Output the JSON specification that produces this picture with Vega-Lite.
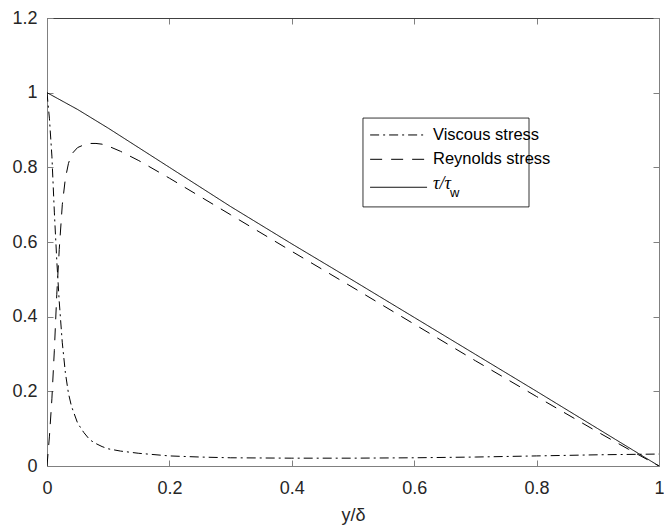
{
  "$schema": "https://vega.github.io/schema/vega-lite/v6.json",
  "width": 612,
  "height": 448,
  "autosize": "none",
  "padding": {"left": 47, "top": 18, "right": 5, "bottom": 61},
  "background": "white",
  "config": {
    "view": {"stroke": "#808080", "strokeWidth": 1},
    "font": "Liberation Sans",
    "axis": {
      "grid": false,
      "domainColor": "#808080",
      "domainWidth": 1,
      "tickColor": "#808080",
      "tickWidth": 1,
      "tickSize": -6,
      "labelFlush": false,
      "labelFont": "Liberation Sans",
      "labelFontSize": 18,
      "labelColor": "#262626",
      "titleFont": "Liberation Sans",
      "titleFontSize": 18,
      "titleFontWeight": "normal",
      "titleColor": "#262626"
    }
  },
  "datasets": {
    "curves": [
      {"s": "Viscous stress", "x": 0, "y": 1.0},
      {"s": "Viscous stress", "x": 0.004, "y": 0.93},
      {"s": "Viscous stress", "x": 0.008, "y": 0.83},
      {"s": "Viscous stress", "x": 0.012, "y": 0.68},
      {"s": "Viscous stress", "x": 0.016, "y": 0.55},
      {"s": "Viscous stress", "x": 0.02, "y": 0.44},
      {"s": "Viscous stress", "x": 0.025, "y": 0.33},
      {"s": "Viscous stress", "x": 0.03, "y": 0.25},
      {"s": "Viscous stress", "x": 0.035, "y": 0.195},
      {"s": "Viscous stress", "x": 0.04, "y": 0.16},
      {"s": "Viscous stress", "x": 0.05, "y": 0.115},
      {"s": "Viscous stress", "x": 0.06, "y": 0.09},
      {"s": "Viscous stress", "x": 0.07, "y": 0.07},
      {"s": "Viscous stress", "x": 0.08, "y": 0.06},
      {"s": "Viscous stress", "x": 0.09, "y": 0.052},
      {"s": "Viscous stress", "x": 0.1, "y": 0.046},
      {"s": "Viscous stress", "x": 0.12, "y": 0.04},
      {"s": "Viscous stress", "x": 0.15, "y": 0.034},
      {"s": "Viscous stress", "x": 0.2, "y": 0.027},
      {"s": "Viscous stress", "x": 0.25, "y": 0.024},
      {"s": "Viscous stress", "x": 0.3, "y": 0.022},
      {"s": "Viscous stress", "x": 0.4, "y": 0.021},
      {"s": "Viscous stress", "x": 0.5, "y": 0.021},
      {"s": "Viscous stress", "x": 0.6, "y": 0.022},
      {"s": "Viscous stress", "x": 0.7, "y": 0.024},
      {"s": "Viscous stress", "x": 0.8, "y": 0.027},
      {"s": "Viscous stress", "x": 0.9, "y": 0.03},
      {"s": "Viscous stress", "x": 1.0, "y": 0.032},
      {"s": "Reynolds stress", "x": 0, "y": 0},
      {"s": "Reynolds stress", "x": 0.004, "y": 0.08},
      {"s": "Reynolds stress", "x": 0.008, "y": 0.18},
      {"s": "Reynolds stress", "x": 0.012, "y": 0.31},
      {"s": "Reynolds stress", "x": 0.016, "y": 0.46},
      {"s": "Reynolds stress", "x": 0.02, "y": 0.58},
      {"s": "Reynolds stress", "x": 0.025, "y": 0.7},
      {"s": "Reynolds stress", "x": 0.03, "y": 0.77},
      {"s": "Reynolds stress", "x": 0.035, "y": 0.81},
      {"s": "Reynolds stress", "x": 0.04, "y": 0.835},
      {"s": "Reynolds stress", "x": 0.05, "y": 0.853},
      {"s": "Reynolds stress", "x": 0.06, "y": 0.86},
      {"s": "Reynolds stress", "x": 0.07, "y": 0.864},
      {"s": "Reynolds stress", "x": 0.08, "y": 0.864},
      {"s": "Reynolds stress", "x": 0.09, "y": 0.862},
      {"s": "Reynolds stress", "x": 0.1, "y": 0.857},
      {"s": "Reynolds stress", "x": 0.12, "y": 0.843},
      {"s": "Reynolds stress", "x": 0.15, "y": 0.818},
      {"s": "Reynolds stress", "x": 0.2, "y": 0.771},
      {"s": "Reynolds stress", "x": 0.3, "y": 0.673},
      {"s": "Reynolds stress", "x": 0.4, "y": 0.575},
      {"s": "Reynolds stress", "x": 0.5, "y": 0.478},
      {"s": "Reynolds stress", "x": 0.6, "y": 0.38},
      {"s": "Reynolds stress", "x": 0.7, "y": 0.282},
      {"s": "Reynolds stress", "x": 0.8, "y": 0.186},
      {"s": "Reynolds stress", "x": 0.9, "y": 0.091},
      {"s": "Reynolds stress", "x": 0.95, "y": 0.045},
      {"s": "Reynolds stress", "x": 1.0, "y": 0},
      {"s": "total", "x": 0, "y": 1.0},
      {"s": "total", "x": 0.02, "y": 0.982},
      {"s": "total", "x": 0.05, "y": 0.955},
      {"s": "total", "x": 0.1, "y": 0.905},
      {"s": "total", "x": 0.2, "y": 0.8},
      {"s": "total", "x": 0.3, "y": 0.695},
      {"s": "total", "x": 0.4, "y": 0.595},
      {"s": "total", "x": 0.5, "y": 0.497},
      {"s": "total", "x": 0.6, "y": 0.398},
      {"s": "total", "x": 0.7, "y": 0.299},
      {"s": "total", "x": 0.8, "y": 0.2},
      {"s": "total", "x": 0.9, "y": 0.1},
      {"s": "total", "x": 1.0, "y": 0}
    ],
    "legendBox": [{"x": 0.5163, "x2": 0.7876, "y": 0.694, "y2": 0.932}],
    "legendKeys": [
      {"s": "Viscous stress", "x": 0.528, "x2": 0.621, "y": 0.8867},
      {"s": "Reynolds stress", "x": 0.528, "x2": 0.621, "y": 0.8215},
      {"s": "total", "x": 0.528, "x2": 0.621, "y": 0.7466}
    ],
    "legendLabels": [
      {"x": 0.6307, "y": 0.8867, "t": "Viscous stress"},
      {"x": 0.6307, "y": 0.8215, "t": "Reynolds stress"}
    ],
    "tauLabel": [{"x": 0.6307, "y": 0.755, "t": "τ/τ"}],
    "tauSub": [{"x": 0.6585, "y": 0.73, "t": "w"}]
  },
  "resolve": {"axis": {"x": "independent", "y": "independent"}},
  "layer": [
    {
      "data": {"name": "curves"},
      "mark": {"type": "line", "color": "black", "strokeWidth": 1, "clip": true},
      "encoding": {
        "x": {
          "field": "x", "type": "quantitative",
          "scale": {"domain": [0, 1], "nice": false},
          "axis": {"orient": "bottom", "values": [0, 0.2, 0.4, 0.6, 0.8, 1], "format": "~g", "labelPadding": 19, "title": "y/δ", "titlePadding": 9}
        },
        "y": {
          "field": "y", "type": "quantitative",
          "scale": {"domain": [0, 1.2], "nice": false},
          "axis": {"orient": "left", "values": [0, 0.2, 0.4, 0.6, 0.8, 1, 1.2], "format": "~g", "labelPadding": 16, "title": null}
        },
        "strokeDash": {
          "field": "s", "type": "nominal",
          "scale": {"domain": ["Viscous stress", "Reynolds stress", "total"], "range": [[9, 4, 2, 4], [12, 9], [1, 0]]},
          "legend": null
        }
      }
    },
    {
      "data": {"name": "legendBox"},
      "mark": {"type": "rect", "fill": "white", "stroke": "black", "strokeWidth": 0.8},
      "encoding": {
        "x": {"field": "x", "type": "quantitative", "axis": {"orient": "top", "values": [0, 0.2, 0.4, 0.6, 0.8, 1], "labels": false, "title": null, "domainColor": "#404040"}},
        "x2": {"field": "x2"},
        "y": {"field": "y", "type": "quantitative", "axis": {"orient": "right", "values": [0, 0.2, 0.4, 0.6, 0.8, 1, 1.2], "labels": false, "title": null}},
        "y2": {"field": "y2"}
      }
    },
    {
      "data": {"name": "legendKeys"},
      "mark": {"type": "rule", "color": "black", "strokeWidth": 1},
      "encoding": {
        "x": {"field": "x", "type": "quantitative", "axis": null},
        "x2": {"field": "x2"},
        "y": {"field": "y", "type": "quantitative", "axis": null},
        "strokeDash": {"field": "s", "type": "nominal", "legend": null}
      }
    },
    {
      "data": {"name": "legendLabels"},
      "mark": {"type": "text", "align": "left", "baseline": "middle", "font": "Liberation Sans", "fontSize": 16.5, "color": "black"},
      "encoding": {
        "x": {"field": "x", "type": "quantitative", "axis": null},
        "y": {"field": "y", "type": "quantitative", "axis": null},
        "text": {"field": "t"}
      }
    },
    {
      "data": {"name": "tauLabel"},
      "mark": {"type": "text", "align": "left", "baseline": "middle", "font": "Liberation Serif", "fontStyle": "italic", "fontSize": 18, "color": "black"},
      "encoding": {
        "x": {"field": "x", "type": "quantitative", "axis": null},
        "y": {"field": "y", "type": "quantitative", "axis": null},
        "text": {"field": "t"}
      }
    },
    {
      "data": {"name": "tauSub"},
      "mark": {"type": "text", "align": "left", "baseline": "middle", "font": "Liberation Sans", "fontSize": 13, "color": "black"},
      "encoding": {
        "x": {"field": "x", "type": "quantitative", "axis": null},
        "y": {"field": "y", "type": "quantitative", "axis": null},
        "text": {"field": "t"}
      }
    }
  ]
}
